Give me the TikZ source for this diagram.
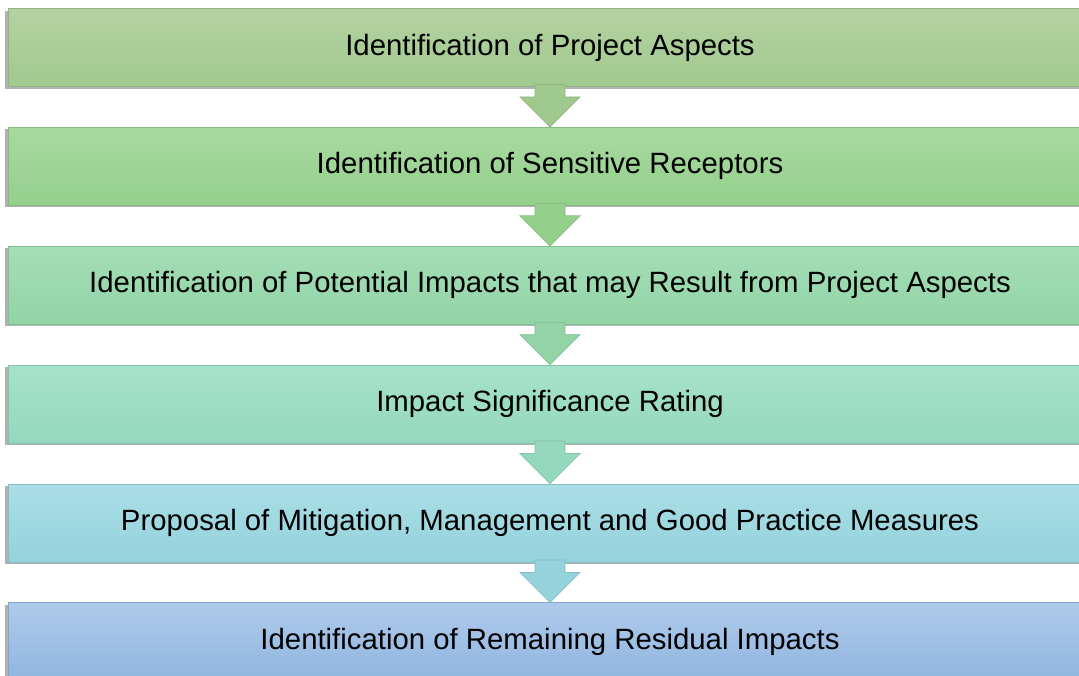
\documentclass[tikz,border=0pt]{standalone}
\usepackage{fontspec}
\setmainfont{Liberation Sans}
\usetikzlibrary{positioning,calc,shadows}

\definecolor{topA}{RGB}{180,210,162}\definecolor{botA}{RGB}{160,201,142}
\definecolor{topB}{RGB}{168,217,160}\definecolor{botB}{RGB}{148,208,140}
\definecolor{topC}{RGB}{164,222,182}\definecolor{botC}{RGB}{146,212,166}
\definecolor{topD}{RGB}{166,226,202}\definecolor{botD}{RGB}{148,216,190}
\definecolor{topE}{RGB}{170,222,230}\definecolor{botE}{RGB}{148,210,220}
\definecolor{topF}{RGB}{174,202,234}\definecolor{botF}{RGB}{144,181,224}

\tikzset{
  stepbox/.style={minimum width=21.68cm, minimum height=1.56cm, inner sep=0pt,
    font=\fontsize{16.7}{20}\selectfont, draw=#1!90!black, line width=0.5pt,
    general shadow={fill=black!30, shadow xshift=-1.5pt, shadow yshift=-1.2pt}},
  downarrow/.style={fill=#1, draw=#1!90!black, line width=0.4pt}
}

% arrow from the bottom of one box to the top of the next
\newcommand{\flowarrow}[3]{%
  \draw[downarrow=#3]
    ($(#1.south)+(-0.3,0.05)$) -- ($(#1.south)+(0.3,0.05)$)
    -- ($(#1.south)+(0.3,-0.2)$) -- ($(#1.south)+(0.6,-0.2)$)
    -- (#2.north) -- ($(#1.south)+(-0.6,-0.2)$)
    -- ($(#1.south)+(-0.3,-0.2)$) -- cycle;}

\begin{document}
\begin{tikzpicture}
	\useasboundingbox (0,0) rectangle (21.58,-13.5);
	\clip (0,0) rectangle (21.58,-13.5);
	
	\node[stepbox=botA, top color=topA, bottom color=botA] (aspects) at (11.0,-0.95)
		{Identification of Project Aspects};
	\node[stepbox=botB, top color=topB, bottom color=botB, below=0.8cm of aspects] (receptors)
		{Identification of Sensitive Receptors};
	\node[stepbox=botC, top color=topC, bottom color=botC, below=0.8cm of receptors] (impacts)
		{Identification of Potential Impacts that may Result from Project Aspects};
	\node[stepbox=botD, top color=topD, bottom color=botD, below=0.8cm of impacts] (rating)
		{Impact Significance Rating};
	\node[stepbox=botE, top color=topE, bottom color=botE, below=0.8cm of rating] (measures)
		{Proposal of Mitigation, Management and Good Practice Measures};
	\node[stepbox=botF, top color=topF, bottom color=botF, below=0.8cm of measures] (residual)
		{Identification of Remaining Residual Impacts};
	
	\flowarrow{aspects}{receptors}{botA}
	\flowarrow{receptors}{impacts}{botB}
	\flowarrow{impacts}{rating}{botC}
	\flowarrow{rating}{measures}{botD}
	\flowarrow{measures}{residual}{botE}
\end{tikzpicture}
\end{document}
